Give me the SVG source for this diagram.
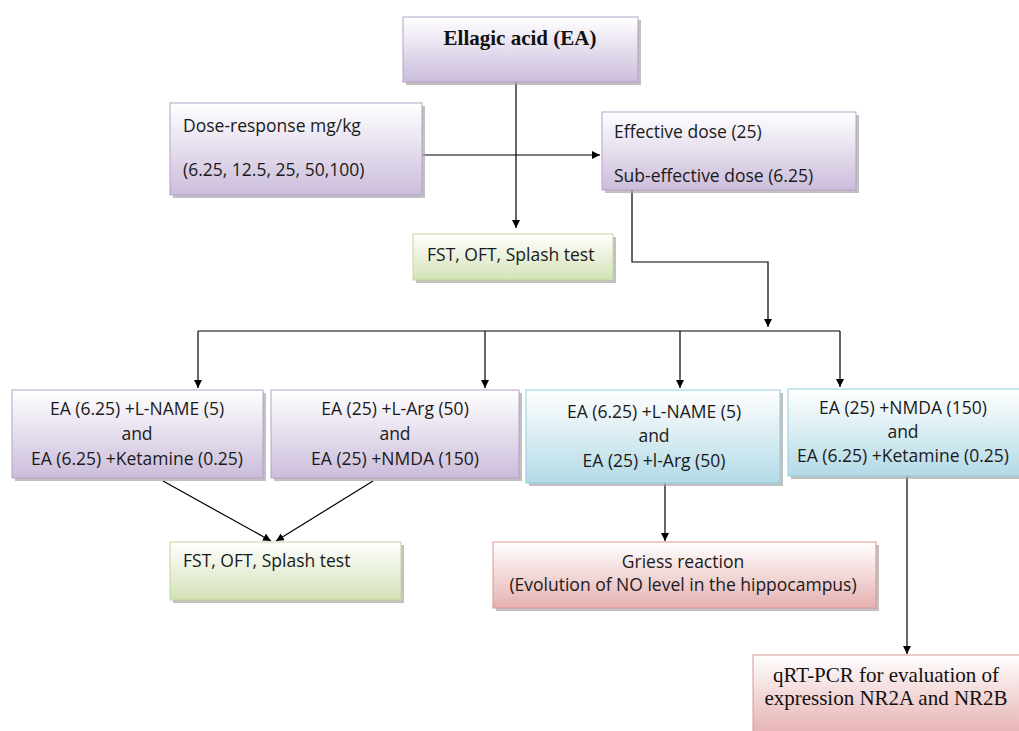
<svg xmlns="http://www.w3.org/2000/svg" width="1019" height="731" viewBox="0 0 1019 731">
<defs>
<linearGradient id="gPurple" x1="0" y1="0" x2="0" y2="1"><stop offset="0" stop-color="#ffffff"/><stop offset="1" stop-color="#cbbddb"/></linearGradient>
<linearGradient id="gGreen" x1="0" y1="0" x2="0" y2="1"><stop offset="0" stop-color="#ffffff"/><stop offset="1" stop-color="#d3e2b6"/></linearGradient>
<linearGradient id="gBlue" x1="0" y1="0" x2="0" y2="1"><stop offset="0" stop-color="#ffffff"/><stop offset="1" stop-color="#b3dae6"/></linearGradient>
<linearGradient id="gRed" x1="0" y1="0" x2="0" y2="1"><stop offset="0" stop-color="#ffffff"/><stop offset="1" stop-color="#e6b1b1"/></linearGradient>
<marker id="arr" viewBox="0 0 10 10" refX="10" refY="5" markerWidth="8" markerHeight="8" markerUnits="userSpaceOnUse" orient="auto"><path d="M0,0 L10,5 L0,10 z" fill="#000"/></marker>
</defs>
<style>
.sh{fill:#a6a6a6;opacity:0.7}
.p{fill:url(#gPurple);stroke:#b3a2c7;stroke-width:1}
.g{fill:url(#gGreen);stroke:#c3d69b;stroke-width:1}
.b{fill:url(#gBlue);stroke:#93cddd;stroke-width:1}
.r{fill:url(#gRed);stroke:#d99694;stroke-width:1}
.t{font-family:"Open Sans",Lato,sans-serif;font-size:17.5px;fill:#1a1a1a}
.c{text-anchor:middle}
.s{font-family:"Liberation Serif",serif;fill:#111}
.ln{fill:none;stroke:#000;stroke-width:1.2}
</style>
<rect width="1019" height="731" fill="#ffffff"/>
<g id="connectors">
<path class="ln" d="M516,82 V228" marker-end="url(#arr)"/>
<path class="ln" d="M422,155 H600" marker-end="url(#arr)"/>
<path class="ln" d="M632,190 V262 H768 V327" marker-end="url(#arr)"/>
<path class="ln" d="M198,331 H840"/>
<path class="ln" d="M198,331 V388" marker-end="url(#arr)"/>
<path class="ln" d="M485,331 V388" marker-end="url(#arr)"/>
<path class="ln" d="M680,331 V388" marker-end="url(#arr)"/>
<path class="ln" d="M840,331 V387" marker-end="url(#arr)"/>
<path class="ln" d="M163,481 L271,541" marker-end="url(#arr)"/>
<path class="ln" d="M373,481 L276,541" marker-end="url(#arr)"/>
<path class="ln" d="M665,483 V541" marker-end="url(#arr)"/>
<path class="ln" d="M907,476 V654" marker-end="url(#arr)"/>
</g>
<g id="n-ea"><rect class="sh" x="406" y="20" width="235" height="65"/><rect class="p" x="403" y="17" width="235" height="65"/><text class="s c" x="520" y="45" font-size="21" font-weight="bold">Ellagic acid (EA)</text></g>
<g id="n-dose"><rect class="sh" x="173" y="106" width="252" height="92"/><rect class="p" x="170" y="103" width="252" height="92"/><text class="t" x="183" y="132">Dose-response mg/kg</text><text class="t" x="183" y="176">(6.25, 12.5,  25, 50,100)</text></g>
<g id="n-eff"><rect class="sh" x="605" y="115" width="254" height="78"/><rect class="p" x="602" y="112" width="254" height="78"/><text class="t" x="614" y="138">Effective dose (25)</text><text class="t" x="614" y="182">Sub-effective dose (6.25)</text></g>
<g id="n-fst1"><rect class="sh" x="416" y="237" width="200" height="46"/><rect class="g" x="413" y="234" width="200" height="46"/><text class="t" x="427" y="261">FST, OFT, Splash test</text></g>
<g id="n-b1"><rect class="sh" x="15" y="393" width="251" height="88"/><rect class="p" x="12" y="390" width="251" height="88"/><text class="t c" x="137" y="415">EA (6.25) +L-NAME (5)</text><text class="t c" x="137" y="440">and</text><text class="t c" x="137" y="465">EA (6.25) +Ketamine (0.25)</text></g>
<g id="n-b2"><rect class="sh" x="274" y="393" width="248" height="88"/><rect class="p" x="271" y="390" width="248" height="88"/><text class="t c" x="395" y="415">EA (25) +L-Arg (50)</text><text class="t c" x="395" y="440">and</text><text class="t c" x="395" y="465">EA (25) +NMDA (150)</text></g>
<g id="n-b3"><rect class="sh" x="529" y="393" width="254" height="93"/><rect class="b" x="526" y="390" width="254" height="93"/><text class="t c" x="654" y="418">EA (6.25) +L-NAME (5)</text><text class="t c" x="654" y="442">and</text><text class="t c" x="654" y="467">EA (25) +l-Arg (50)</text></g>
<g id="n-b4"><rect class="sh" x="791" y="392" width="231" height="87"/><rect class="b" x="788" y="389" width="233" height="87"/><text class="t c" x="903" y="414">EA (25) +NMDA (150)</text><text class="t c" x="903" y="438">and</text><text class="t c" x="903" y="462">EA (6.25) +Ketamine (0.25)</text></g>
<g id="n-fst2"><rect class="sh" x="173" y="545" width="231" height="58"/><rect class="g" x="170" y="542" width="231" height="58"/><text class="t" x="183" y="567">FST, OFT, Splash test</text></g>
<g id="n-griess"><rect class="sh" x="496" y="545" width="383" height="66"/><rect class="r" x="493" y="542" width="383" height="66"/><text class="t c" x="683" y="568">Griess reaction</text><text class="t c" x="683" y="591">(Evolution of NO level in the hippocampus)</text></g>
<g id="n-qrt"><rect class="r" x="753" y="655" width="270" height="80"/><text class="s c" x="886" y="682" font-size="21">qRT-PCR for evaluation of</text><text class="s c" x="886" y="705" font-size="21">expression NR2A and NR2B</text></g>
</svg>
